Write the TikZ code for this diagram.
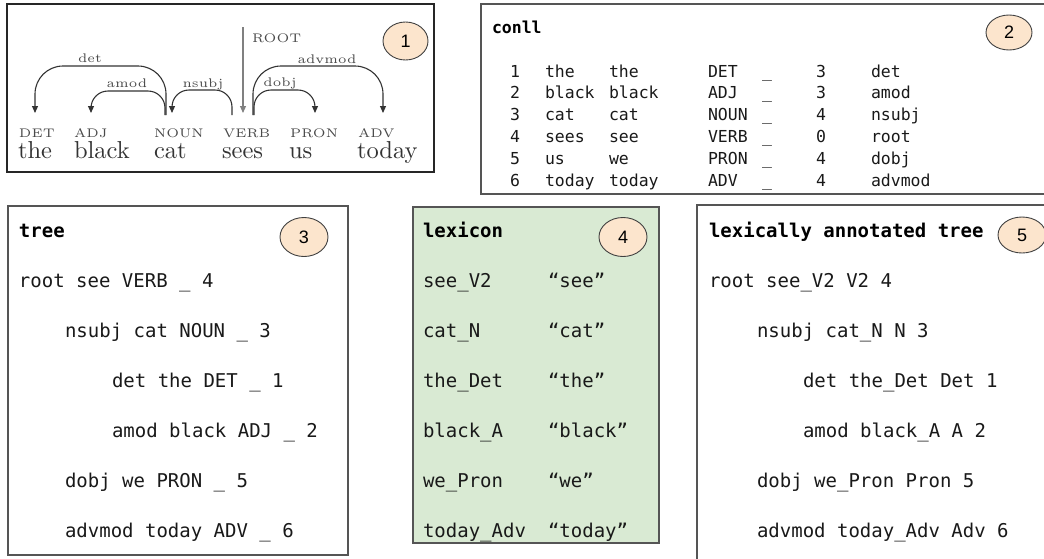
\documentclass[tikz,border=0pt]{standalone}
\usepackage{fontspec}
\usepackage{graphicx}
\newfontfamily\monof{DejaVu Sans Mono}
\newfontfamily\numf{Liberation Sans}
\usetikzlibrary{arrows.meta,shapes.geometric}
\newcommand{\bigw}[1]{\scalebox{2.45}{\fontsize{10}{12}\selectfont #1}}
\newcommand{\smw}[1]{\scalebox{2.5}{\fontsize{5}{6}\selectfont #1}}
\definecolor{badgefill}{HTML}{FCE5CD}
\definecolor{lexfill}{HTML}{D9EAD3}
\definecolor{boxgray}{HTML}{555555}
\definecolor{inkgray}{HTML}{333333}
\definecolor{labgray}{HTML}{4A4A4A}
\begin{document}
\begin{tikzpicture}[x=1pt,y=-1pt,
  badge/.style={ellipse,draw=black!75,line width=0.9pt,fill=badgefill,inner sep=0pt,
     font=\numf\fontsize{18}{18}\selectfont},
  panel/.style={draw=boxgray,line width=1.1pt},
  txt/.style={anchor=base west,inner sep=0pt,outer sep=0pt},
  word/.style={txt,text=inkgray},
  tag/.style={txt,text=labgray},
  lab/.style={anchor=base,inner sep=0pt,text=labgray},
  deparc/.style={draw=black!80,line width=1.1pt,-{Triangle[length=7pt,width=6pt]}},
  mono/.style={txt,text=black!90,font=\monof\fontsize{19}{19}\selectfont},
  monob/.style={txt,text=black,font=\monof\bfseries\fontsize{19}{19}\selectfont},
  conll/.style={txt,text=black!90,font=\monof\fontsize{16.5}{16.5}\selectfont},
  conllb/.style={txt,text=black,font=\monof\bfseries\fontsize{16.5}{16.5}\selectfont}
]
\useasboundingbox (0,0) rectangle (1044,558);

% ---------- panels ----------
\draw[draw=black!85,line width=1.4pt] (7,4) rectangle (434,172);
\draw[panel] (481,4) rectangle (1052,194);
\draw[panel] (8,206) rectangle (348,555);
\draw[panel,fill=lexfill] (413,207) rectangle (659,543);
\draw[panel] (697,205) rectangle (1052,566);

% ---------- badges ----------
\node[badge,minimum width=45pt,minimum height=38pt] (b1) at (405.5,41) {1};
\node[badge,minimum width=46pt,minimum height=35pt] (b2) at (1009,32.5) {2};
\node[badge,minimum width=48pt,minimum height=39pt] (b3) at (304,237) {3};
\node[badge,minimum width=48pt,minimum height=39pt] (b4) at (623,237) {4};
\node[badge,minimum width=48pt,minimum height=36pt] (b5) at (1022,235) {5};

% ---------- panel 1: dependency graph ----------
\node[word] (w1) at (18,158) {\bigw{the}};
\node[word] (w2) at (74,158) {\bigw{black}};
\node[word] (w3) at (154,158) {\bigw{cat}};
\node[word] (w4) at (222,158) {\bigw{sees}};
\node[word] (w5) at (289,158) {\bigw{us}};
\node[word] (w6) at (357,158) {\bigw{today}};
\node[tag] (t1) at (19,137) {\smw{DET}};
\node[tag] (t2) at (74,137) {\smw{ADJ}};
\node[tag] (t3) at (154,137) {\smw{NOUN}};
\node[tag] (t4) at (223,137) {\smw{VERB}};
\node[tag] (t5) at (290,137) {\smw{PRON}};
\node[tag] (t6) at (358,137) {\smw{ADV}};

\coordinate (s3a) at (166,115);
\coordinate (s3b) at (165,115);
\coordinate (s4a) at (232,115);
\coordinate (s4b) at (254,115);
\coordinate (s4c) at (253,115);
\coordinate (e1) at (35,113);
\coordinate (e2) at (91,113);
\coordinate (e3) at (172,113);
\coordinate (e4) at (243,113);
\coordinate (e5) at (315,113);
\coordinate (e6) at (383,113);
\coordinate (rt) at (243,27);

\draw[deparc,rounded corners=28pt] (s3a) -- ++(0,-49) -| (e1);
\draw[deparc,rounded corners=17pt] (s3b) -- ++(0,-24) -| (e2);
\draw[deparc,rounded corners=17pt] (s4a) -- ++(0,-25) -| (e3);
\draw[deparc,rounded corners=17pt] (s4b) -- ++(0,-25) -| (e5);
\draw[deparc,rounded corners=28pt] (s4c) -- ++(0,-49) -| (e6);
\draw[deparc,draw=black!50] (rt) -- (e4);

\node[lab] (ldet) at (90,62) {\smw{det}};
\node[lab] (lamod) at (127,87) {\smw{amod}};
\node[lab] (lnsubj) at (203,87) {\smw{nsubj}};
\node[lab] (ldobj) at (280,86) {\smw{dobj}};
\node[lab] (ladv) at (327,63) {\smw{advmod}};
\node[tag] (lroot) at (252,42) {\smw{ROOT}};

% ---------- panel 2: conll ----------
\node[conllb] (ctitle) at (492,33) {conll};
\foreach \i/\a/\b/\c/\e/\f [count=\r] in
  {1/the/the/DET/3/det, 2/black/black/ADJ/3/amod, 3/cat/cat/NOUN/4/nsubj,
   4/sees/see/VERB/0/root, 5/us/we/PRON/4/dobj, 6/today/today/ADV/4/advmod}{
  \pgfmathsetmacro{\yy}{77+21.8*(\r-1)}
  \node[conll] (c\r-1) at (510,\yy) {\i};
  \node[conll] (c\r-2) at (545,\yy) {\a};
  \node[conll] (c\r-3) at (609,\yy) {\b};
  \node[conll] (c\r-4) at (708,\yy) {\c};
  \node[conll] (c\r-5) at (762,\yy) {\_};
  \node[conll] (c\r-6) at (816,\yy) {\e};
  \node[conll] (c\r-7) at (871,\yy) {\f};
}

% ---------- panel 3: tree ----------
\node[monob] (ttitle) at (19,237) {tree};
\node[mono] (tr1) at (19,287) {root see VERB \_ 4};
\node[mono] (tr2) at (65,337) {nsubj cat NOUN \_ 3};
\node[mono] (tr3) at (112,387) {det the DET \_ 1};
\node[mono] (tr4) at (112,437) {amod black ADJ \_ 2};
\node[mono] (tr5) at (65,487) {dobj we PRON \_ 5};
\node[mono] (tr6) at (65,537) {advmod today ADV \_ 6};

% ---------- panel 4: lexicon ----------
\node[monob] (ltitle) at (423,237) {lexicon};
\foreach \k/\v [count=\r] in {see\_V2/see, cat\_N/cat, the\_Det/the,
   black\_A/black, we\_Pron/we, today\_Adv/today}{
  \pgfmathsetmacro{\yy}{287+50*(\r-1)}
  \node[mono] (lk\r) at (423,\yy) {\k};
  \node[mono] (lv\r) at (548,\yy) {“\v”};
}

% ---------- panel 5: lexically annotated tree ----------
\node[monob] (atitle) at (709,237) {lexically annotated tree};
\node[mono] (at1) at (709,287) {root see\_V2 V2 4};
\node[mono] (at2) at (757,337) {nsubj cat\_N N 3};
\node[mono] (at3) at (803,387) {det the\_Det Det 1};
\node[mono] (at4) at (803,437) {amod black\_A A 2};
\node[mono] (at5) at (757,487) {dobj we\_Pron Pron 5};
\node[mono] (at6) at (757,537) {advmod today\_Adv Adv 6};
\end{tikzpicture}
\end{document}
